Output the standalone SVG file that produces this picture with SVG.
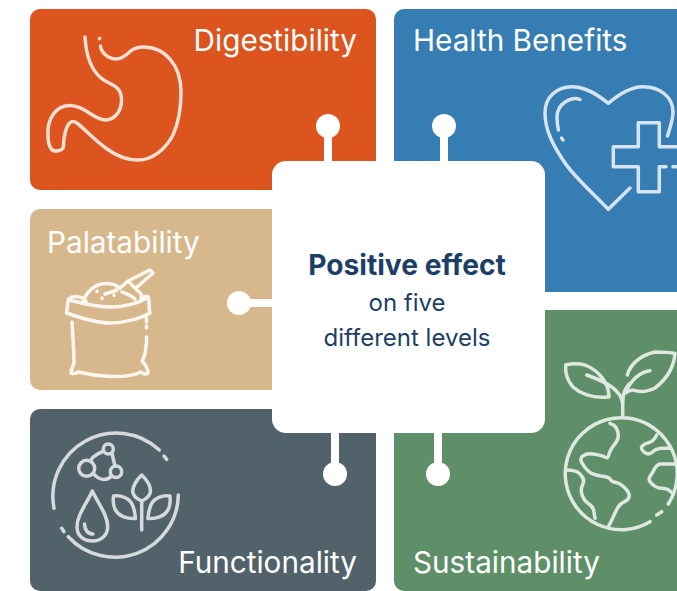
<svg xmlns="http://www.w3.org/2000/svg" width="677" height="591" viewBox="0 0 677 591">
<style>
.lbl{font-family:"Inter","Noto Sans","Liberation Sans",sans-serif;font-size:29.7px;fill:#fff}
.ic{fill:none;stroke-width:3.5;stroke-linecap:round;stroke-linejoin:round}
.conn line{stroke:#fff;stroke-width:8}
.conn circle{fill:#fff}
.ctr{font-family:"Inter","Noto Sans","Liberation Sans",sans-serif;fill:#1d3f66;text-anchor:middle}
</style>
<rect width="677" height="591" fill="#fff"/>
<g id="digestibility">
<rect x="30" y="9" width="346" height="181" rx="10" fill="#dc541e"/>
<text class="lbl" x="357" y="51" text-anchor="end">Digestibility</text>
<g class="ic" stroke="#f8dfd3">
<path d="M85 37C86 55 90 68 100 77C108 85 121 84 121.500 99C122 113 113 120 105 120C94 120 84 105 69 105.500C55 106 47 120 48 135C48 145 51 151 55 151C60 151 63.500 149 63.500 146C63.500 138 66 122 73 121.500C78 121 90 137 107 149C118 157 128 160 138 160C152 160 165 150 173 135C179 122 181 108 181 92C181 65 165 47 143 47C128 47 128 59 116 59C108 59 101 52 100.500 46"/>
<path d="M99.500 38.200V38.800"/>
</g>
</g>
<g id="health-benefits">
<rect x="394" y="9" width="293" height="283" rx="10" fill="#357db2"/>
<text class="lbl" x="413" y="51">Health Benefits</text>
<g class="ic" stroke="#d5e4f0">
<path d="M630 188L608.300 209.300C590 190 572 175 563 160C553 145 545 130 545 113C545 97 557 86.700 571.700 86.700C586 86.700 598 95 608.300 103.300C618 95 630 86.700 643 86.700C660 86.700 673 97 673 112C673 120 670 128 667.500 136"/>
<path d="M580 99.500C572 96 557 103 557 117C557 122 557.500 126 558.500 130"/>
<path d="M561.500 138L563 140"/>
<path d="M666 166.700H659.300V191.700H638.300V166.700H613.300V146.700H638.300V122.700H659.300V146.700H680"/>
<path d="M673 166.700H680"/>
</g>
</g>
<g id="palatability">
<rect x="30" y="209" width="300" height="181" rx="10" fill="#d6b88c"/>
<text class="lbl" x="47" y="253">Palatability</text>
<g class="ic" stroke="#fbf6ef">
<path d="M83 298C79 297 72 296 69 298.500C67 301 68 306 66.500 313C75 316 95 323 110 323C125 323 142 318 150 313C148 306 150 300 148 297C146 295 143 297 141 298"/>
<path d="M69 300C85 304 96 307 110 307C125 307 138 303 147 298"/>
<path d="M83.500 301C86 292 95 284 105 283.500C110 283 116 285 120 288"/>
<path d="M105 294L117 290M120 288L128 281L141 294C142 297 142 300 141 301M122 292C128 294 132 296 135 299M128 281L150 270L153 273L136 288"/>
<path d="M72 322C73 340 74 352 74 362C74 365 71 369 71 373C74 374 76 374 78 372C95 376 125 380 141 372C143 374 146 375 148 373C148 368 145 364 142 361C145 356 146 350 146 345"/>
<path d="M146.500 326V328M146.500 318V322M146.500 337V345"/>
<path d="M97 291V291.500M102 298V298.500M114 295V295.500M86 301V301.500"/>
</g>
</g>
<g id="functionality">
<rect x="30" y="409" width="346" height="182" rx="10" fill="#52626b"/>
<text class="lbl" x="357" y="573" text-anchor="end">Functionality</text>
<g class="ic" stroke="#d6dadd">
<path d="M54 508.300A63.300 63.300 0 0 1 159.300 450"/>
<path d="M164 456L166.700 459.300"/>
<path d="M178.300 495A63.300 63.300 0 0 1 68.300 536.700"/>
<path d="M61.700 528.300L64 531.700"/>
<circle cx="86.700" cy="468.300" r="8"/><circle cx="108.300" cy="449" r="5"/><circle cx="116" cy="471.700" r="5.700"/>
<path d="M90.500 461C92 456 98 454 103.500 451M112 453.500L115 466M93 473C99 481 107 481 111.500 476"/>
<path d="M92.300 491C86 505 77 515 77 527C77 536 84 541 92.500 541C101 541 107.700 535 107.700 527C107.700 515 98 503 92.300 491Z"/>
<path d="M84.500 524C84.500 530 88 534 93 534"/>
<path d="M141.700 501V530"/>
<path d="M141.700 475C135 481 132.700 488 132.700 491C132.700 496 137 499 141.700 501C146 499 150.500 496 150.500 491C150.500 487 148 481 141.700 475Z"/>
<path d="M113.500 496C121 495 129 498 132 504C135 510 135 515 135.500 518.500C127 519 118 516 115 509C113 505 113 500 113.500 496Z"/>
<path d="M169.900 496C162.400 495 154.400 498 151.400 504C148.400 510 148.400 515 147.900 518.500C156.400 519 165.400 516 168.400 509C170.400 505 170.400 500 169.900 496Z"/>
</g>
</g>
<g id="sustainability">
<rect x="394" y="310" width="293" height="281" rx="10" fill="#5e8f68"/>
<text class="lbl" x="413" y="573">Sustainability</text>
<g class="ic" stroke="#dfe9e1">
<path d="M668.300 504A56 56 0 1 0 650 521.700"/>
<path d="M656.700 515L661.700 511.700"/>
<path d="M622.700 417V402C622.700 392 626 388 629 384"/>
<path d="M609 397C609 384 600 371 585 365C577 363 570 364 565.700 365C565 372 567 380 573 387C582 395 595 398 608 397"/>
<path d="M586.700 375C598 379 612 385 618 393C621 396 622 400 622.700 403"/>
<path d="M627.300 375C630 365 640 355 655 352C665 352 670 352 675 353.500C674 366 668 378 655 388C645 393 638 392 633 390C630 390 627 392 625 393"/>
<path d="M650 370.700C640 372 632 378 625 393"/>
<path d="M610 423.300Q618.300 426 618.300 435.800Q618.300 440 614 445Q610 450 609 454Q608.300 460 604 456.500Q600 455 593 454Q586.700 453 583 455.800Q579.300 458.300 582 463Q585 468.300 589 471.700Q593.300 475 601 476Q608.300 476.700 610 479Q611.700 482 616 482.500Q620 483.300 625 488Q630 493.300 629 497Q628.300 500 623 502.500Q618.300 505 616 511Q613.300 516.700 611 521.500L608.300 526.700"/>
<path d="M566.700 470Q578.300 470 581.600 476Q585 480 582.500 485Q580 490 582.500 496Q585 501.700 589 504Q593.300 506.700 594 512L595 518.300"/>
<path d="M656.700 435Q653.300 441.700 649 442.500Q645 443.300 642.500 445.800Q640 448.300 644 452Q648.300 455.700 652.500 452Q656.700 448.300 663 448.300L669.300 448.300"/>
<path d="M677 464H660Q656.700 465 655 468Q653.300 471.700 650.300 476Q647.300 480 652 484Q656.700 488.300 661.700 488.300Q666.700 488.300 670 491L673.300 494"/>
</g>
</g>
<g id="connectors" class="conn">
<line x1="328" y1="126" x2="328" y2="170"/><circle cx="328" cy="126" r="12"/>
<line x1="444" y1="126" x2="444" y2="170"/><circle cx="444" cy="126" r="12"/>
<line x1="239" y1="303" x2="280" y2="303"/><circle cx="239" cy="303" r="12"/>
<line x1="335" y1="474" x2="335" y2="425"/><circle cx="335" cy="474" r="12"/>
<line x1="438" y1="474" x2="438" y2="425"/><circle cx="438" cy="474" r="12"/>
</g>
<g id="center">
<rect x="272" y="161" width="273" height="272" rx="14" fill="#fff"/>
<text class="ctr" x="407" y="275" font-size="28.2" font-weight="700">Positive effect</text>
<text class="ctr" x="407" y="311" font-size="24">on five</text>
<text class="ctr" x="407" y="346" font-size="24">different levels</text>
</g>
</svg>
